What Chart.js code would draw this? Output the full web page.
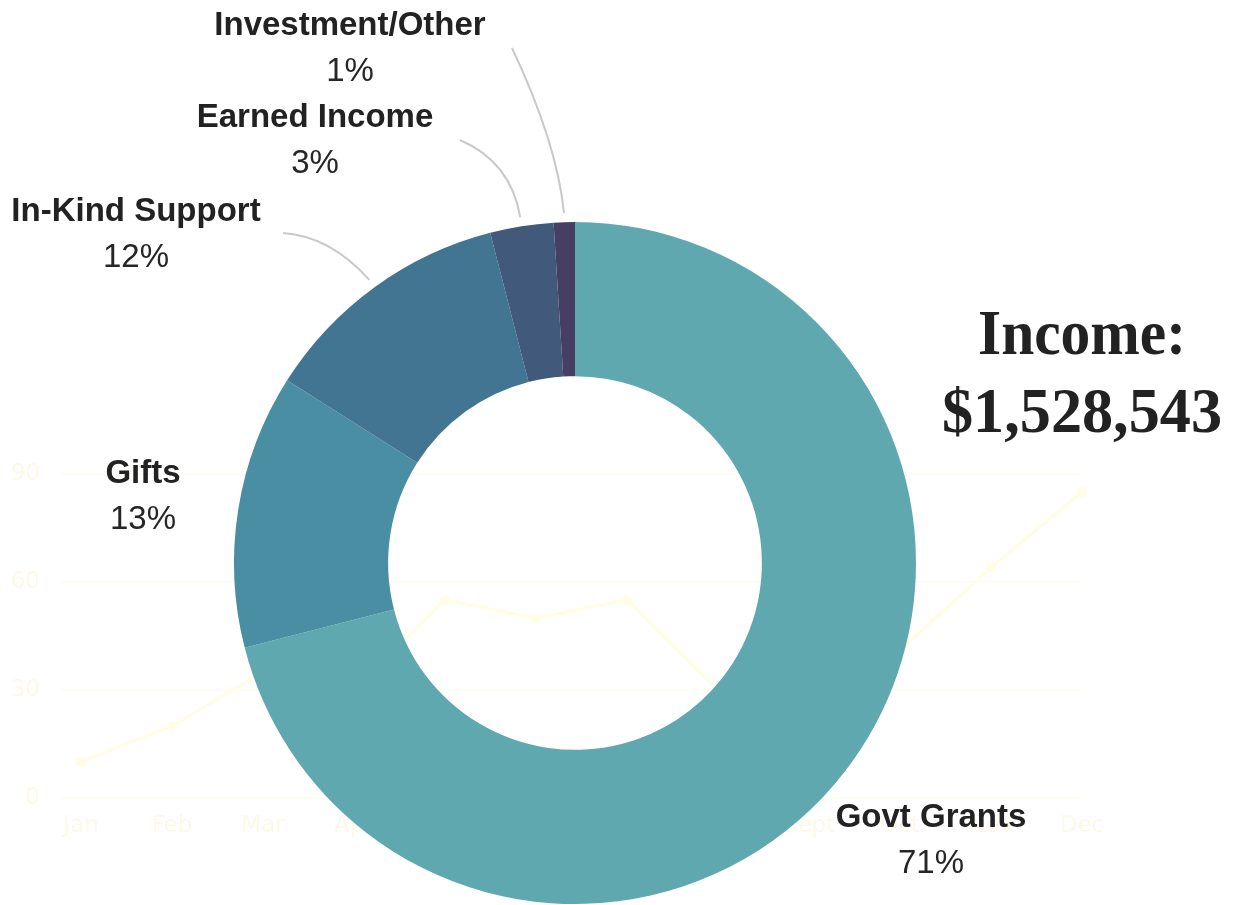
<!DOCTYPE html>
<html>
<head>
<meta charset="utf-8">
<script src="https://cdn.jsdelivr.net/npm/chart.js@4.4.1/dist/chart.umd.min.js"></script>
<style>
  html, body { margin: 0; padding: 0; background: #ffffff; width: 1238px; height: 905px; overflow: hidden; }
  #wrap { position: relative; width: 1238px; height: 905px; }
  #wrap canvas { position: absolute; left: 0; top: 0; }
</style>
</head>
<body>
<div id="wrap">
  <canvas id="bg" width="1238" height="905"></canvas>
  <canvas id="donut" width="1238" height="905"></canvas>
</div>
<script>
// ---------------- data ----------------
const categories = ['Govt Grants', 'Gifts', 'In-Kind Support', 'Earned Income', 'Investment/Other'];
const shares = [71, 13, 12, 3, 1];
const percentLabels = ['71%', '13%', '12%', '3%', '1%'];

const months = ['Jan', 'Feb', 'Mar', 'Apr', 'May', 'Jun', 'Jul', 'Aug', 'Sept', 'Oct', 'Nov', 'Dec'];
const monthlyValues = [10, 20, 35, 30, 55, 50, 55, 30, 35, 41, 64, 85];
const yTickValues = [0, 30, 60, 90];

const titleLines = ['Income:', '$1,528,543'];

// ---------------- styles / layout ----------------
const sliceColors = ['#5fa8b0', '#4a8ea4', '#427592', '#415a7c', '#463f63'];
const faintLine = '#fffde2';
const faintText = '#fdf9e8';
const faintGrid = '#fefdf3';

// label placement relative to the doughnut centre (x centre, name baseline)
const labelLayout = [
  { dx: 356,  dy: 264,  leader: null },
  { dx: -432, dy: -80,  leader: null },
  { dx: -439, dy: -342, leader: { end: [-292, -330], ctrl: [-245, -327] } },
  { dx: -260, dy: -436, leader: { end: [-115, -423], ctrl: [-64, -401] } },
  { dx: -225, dy: -528, leader: { end: [-63, -515],  ctrl: [-18, -420] } }
];
const pctGap = 46;

// ---------------- background line chart ----------------
new Chart(document.getElementById('bg'), {
  type: 'line',
  data: {
    labels: months,
    datasets: [{
      data: monthlyValues,
      borderColor: faintLine,
      backgroundColor: faintLine,
      borderWidth: 3,
      pointRadius: 5,
      pointBorderWidth: 0,
      pointBackgroundColor: faintLine,
      tension: 0,
      fill: false
    }]
  },
  options: {
    responsive: false,
    animation: false,
    events: [],
    layout: { padding: { left: 0, right: 156, top: 474, bottom: 0 } },
    plugins: { legend: { display: false }, tooltip: { enabled: false } },
    scales: {
      x: {
        grid: { display: false, drawTicks: false },
        border: { display: false },
        ticks: { color: faintText, font: { family: 'DejaVu Sans', size: 23 }, padding: 14, maxRotation: 0, autoSkip: false },
        afterFit: s => { s.height = 107; }
      },
      y: {
        min: 0, max: 90,
        grid: { color: faintGrid, lineWidth: 2, tickLength: 20, drawTicks: true },
        border: { display: false },
        ticks: { color: faintText, font: { family: 'DejaVu Sans', size: 23 }, padding: 21 },
        afterBuildTicks: s => { s.ticks = yTickValues.map(v => ({ value: v })); },
        afterFit: s => { s.width = 81; }
      }
    }
  }
});

// ---------------- doughnut overlay ----------------
const labelPlugin = {
  id: 'outerLabels',
  afterDatasetsDraw(chart) {
    const ctx = chart.ctx;
    const meta = chart.getDatasetMeta(0);
    ctx.save();
    meta.data.forEach((arc, i) => {
      const cx = arc.x, cy = arc.y;
      const lay = labelLayout[i];
      if (lay.leader) {
        const mid = (arc.startAngle + arc.endAngle) / 2;
        const r = arc.outerRadius + 9;
        const sx = cx + Math.cos(mid) * r, sy = cy + Math.sin(mid) * r;
        ctx.beginPath();
        ctx.moveTo(sx, sy);
        ctx.quadraticCurveTo(cx + lay.leader.ctrl[0], cy + lay.leader.ctrl[1],
                             cx + lay.leader.end[0], cy + lay.leader.end[1]);
        ctx.strokeStyle = '#c9c9c9';
        ctx.lineWidth = 2;
        ctx.stroke();
      }
      ctx.textAlign = 'center';
      ctx.textBaseline = 'alphabetic';
      ctx.fillStyle = '#222222';
      ctx.font = 'bold 33px "Liberation Sans", Arial, sans-serif';
      ctx.fillText(categories[i], cx + lay.dx, cy + lay.dy);
      ctx.fillStyle = '#262626';
      ctx.font = '33px "Liberation Sans", Arial, sans-serif';
      ctx.fillText(percentLabels[i], cx + lay.dx, cy + lay.dy + pctGap);
    });
    ctx.restore();
  },
  afterDraw(chart) {
    const ctx = chart.ctx;
    ctx.save();
    ctx.fillStyle = '#222222';
    ctx.textAlign = 'center';
    ctx.textBaseline = 'alphabetic';
    ctx.font = 'bold 64px "Liberation Serif", "DejaVu Serif", serif';
    ctx.fillText(titleLines[0], 1082, 354, 208);
    ctx.fillText(titleLines[1], 1082, 432, 280);
    ctx.restore();
  }
};

new Chart(document.getElementById('donut'), {
  type: 'doughnut',
  data: {
    labels: categories,
    datasets: [{
      data: shares,
      backgroundColor: sliceColors,
      borderWidth: 0,
      hoverOffset: 0
    }]
  },
  options: {
    responsive: false,
    animation: false,
    events: [],
    cutout: '54.8%',
    layout: { padding: { left: 234, right: 322, top: 222, bottom: 1 } },
    plugins: { legend: { display: false }, tooltip: { enabled: false } }
  },
  plugins: [labelPlugin]
});
</script>
</body>
</html>
